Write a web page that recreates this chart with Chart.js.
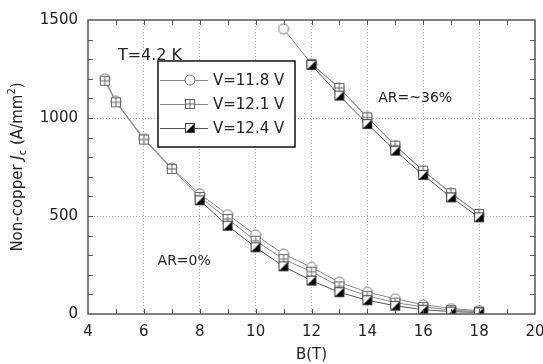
<!DOCTYPE html>
<html>
<head>
<meta charset="utf-8">
<script src="https://cdn.jsdelivr.net/npm/chart.js@4"></script>
<style>
  html, body { margin: 0; padding: 0; background: #fff; }
</style>
</head>
<body>
<canvas id="jcChart" width="543" height="364"></canvas>
<script>
// ---- data ----
// AR=0% group
var fieldLow    = [4.6, 5, 6, 7, 8, 9, 10, 11, 12, 13, 14, 15, 16, 17, 18];
var jc118Low    = [1200, 1085, 895, 745, 612, 507, 403, 306, 238, 162, 111, 78, 47, 28, 17];
var jc121Low    = [1190, 1080, 890, 740, 597, 485, 374, 280, 216, 141, 93, 58, 36, 20, 12];
var fieldLow124 = [8, 9, 10, 11, 12, 13, 14, 15, 16, 17, 18];
var jc124Low    = [580, 450, 340, 243, 170, 111, 70, 42, 22, 12, 8];
// AR=~36% group
var fieldHigh118 = [11, 12, 13, 14, 15, 16, 17, 18];
var jc118High    = [1455, 1275, 1153, 1003, 859, 731, 616, 510];
var fieldHigh    = [12, 13, 14, 15, 16, 17, 18];
var jc121High    = [1275, 1153, 1003, 859, 731, 616, 510];
var jc124High    = [1270, 1114, 969, 833, 709, 595, 493];

var seriesNames = ["V=11.8 V", "V=12.1 V", "V=12.4 V"];
var xTicks = [4, 6, 8, 10, 12, 14, 16, 18, 20];
var yTicks = [0, 500, 1000, 1500];

var FONT = "'DejaVu Sans', sans-serif";

function pts(xs, ys) {
    return xs.map(function(x, i) { return {x: x, y: ys[i]}; });
}

// ---- marker images ----
function makeMarker(kind) {
    var c = document.createElement('canvas');
    c.width = 12; c.height = 12;
    var g = c.getContext('2d');
    g.lineWidth = 1;
    if (kind === 'circle') {
        g.beginPath();
        g.arc(6, 6, 5, 0, Math.PI * 2);
        g.fillStyle = '#fff'; g.fill();
        g.strokeStyle = '#777'; g.stroke();
    } else if (kind === 'plus') {
        g.fillStyle = '#fff';
        g.fillRect(1.5, 1.5, 9, 9);
        g.strokeStyle = '#666';
        g.strokeRect(1.5, 1.5, 9, 9);
        g.beginPath();
        g.moveTo(6, 1.5); g.lineTo(6, 10.5);
        g.moveTo(1.5, 6); g.lineTo(10.5, 6);
        g.stroke();
    } else {
        g.fillStyle = '#fff';
        g.fillRect(1.5, 1.5, 9, 9);
        g.beginPath();
        g.moveTo(1.5, 10.5); g.lineTo(10.5, 1.5); g.lineTo(10.5, 10.5);
        g.closePath();
        g.fillStyle = '#000'; g.fill();
        g.strokeStyle = '#444';
        g.strokeRect(1.5, 1.5, 9, 9);
    }
    return c;
}
var markers = [makeMarker('circle'), makeMarker('plus'), makeMarker('half')];
var lineColors = ['#888', '#888', '#555'];

function ds(name, idx, data) {
    return {
        label: name,
        data: data,
        borderColor: lineColors[idx],
        backgroundColor: '#fff',
        borderWidth: 1,
        pointStyle: markers[idx],
        pointRadius: 5,
        pointHoverRadius: 5,
        tension: 0,
        fill: false,
        order: 2 - idx
    };
}

// ---- decorations: frame, inner ticks, legend box, labels, y title ----
var decor = {
    id: 'decor',
    afterDraw: function(chart) {
        var ctx = chart.ctx, a = chart.chartArea;
        var xs = chart.scales.x, ys = chart.scales.y;
        ctx.save();
        ctx.setLineDash([]);
        // minor ticks pointing inward on all four sides
        ctx.strokeStyle = '#555';
        ctx.lineWidth = 1;
        ctx.beginPath();
        for (var v = 5; v < 20; v++) {
            var px = Math.round(xs.getPixelForValue(v)) + 0.5;
            ctx.moveTo(px, a.bottom); ctx.lineTo(px, a.bottom - 5);
            ctx.moveTo(px, a.top); ctx.lineTo(px, a.top + 5);
        }
        for (var w = 100; w < 1500; w += 100) {
            var py = Math.round(ys.getPixelForValue(w)) + 0.5;
            ctx.moveTo(a.left, py); ctx.lineTo(a.left + 5, py);
            ctx.moveTo(a.right, py); ctx.lineTo(a.right - 5, py);
        }
        ctx.stroke();
        // frame
        ctx.lineWidth = 1.5;
        ctx.strokeStyle = '#555';
        ctx.strokeRect(a.left, a.top, a.right - a.left, a.bottom - a.top);

        // text labels
        ctx.fillStyle = '#222';
        ctx.textBaseline = 'middle';
        ctx.textAlign = 'left';
        ctx.font = '16px ' + FONT;
        ctx.fillText('T=4.2 K', xs.getPixelForValue(5.07), ys.getPixelForValue(1316));
        ctx.font = '14px ' + FONT;
        ctx.fillText('AR=~36%', xs.getPixelForValue(14.39), ys.getPixelForValue(1102));
        ctx.fillText('AR=0%', xs.getPixelForValue(6.49), ys.getPixelForValue(270));

        // legend box
        var bx = a.left + 70, by = a.top + 41, bw = 137, bh = 86;
        ctx.fillStyle = '#fff';
        ctx.fillRect(bx, by, bw, bh);
        ctx.lineWidth = 1.5;
        ctx.strokeStyle = '#111';
        ctx.strokeRect(bx, by, bw, bh);
        ctx.font = '15px ' + FONT;
        for (var i = 0; i < seriesNames.length; i++) {
            var ly = Math.round(by + 19 + i * 24) + 0.5;
            ctx.lineWidth = 1;
            ctx.strokeStyle = lineColors[i];
            ctx.beginPath();
            ctx.moveTo(bx + 2, ly); ctx.lineTo(bx + 50, ly);
            ctx.stroke();
            ctx.drawImage(markers[i], bx + 32 - 6, ly - 6.5);
            ctx.fillStyle = '#222';
            ctx.fillText(seriesNames[i], bx + 55, ly + 1);
        }

        // y axis title with subscript / superscript
        var cy = (a.top + a.bottom) / 2;
        ctx.translate(18, cy);
        ctx.rotate(-Math.PI / 2);
        var parts = [
            {t: 'Non-copper ', f: '15px ' + FONT, dy: 0},
            {t: 'J', f: 'italic 15px ' + FONT, dy: 0},
            {t: 'c', f: '10px ' + FONT, dy: 5},
            {t: ' (A/mm', f: '15px ' + FONT, dy: 0},
            {t: '2', f: '10px ' + FONT, dy: -6},
            {t: ')', f: '15px ' + FONT, dy: 0}
        ];
        var total = 0;
        parts.forEach(function(p) { ctx.font = p.f; p.w = ctx.measureText(p.t).width; total += p.w; });
        var x0 = -total / 2;
        ctx.fillStyle = '#222';
        parts.forEach(function(p) {
            ctx.font = p.f;
            ctx.fillText(p.t, x0, p.dy);
            x0 += p.w;
        });
        ctx.restore();
    }
};

var jcChart = new Chart(document.getElementById('jcChart'), {
    type: 'line',
    data: {
        datasets: [
            ds(seriesNames[0], 0, pts(fieldLow, jc118Low)),
            ds(seriesNames[1], 1, pts(fieldLow, jc121Low)),
            ds(seriesNames[2], 2, pts(fieldLow124, jc124Low)),
            ds(seriesNames[0], 0, pts(fieldHigh118, jc118High)),
            ds(seriesNames[1], 1, pts(fieldHigh, jc121High)),
            ds(seriesNames[2], 2, pts(fieldHigh, jc124High))
        ]
    },
    options: {
        responsive: false,
        animation: false,
        layout: { padding: { top: 20, right: 8, left: 0, bottom: 0 } },
        plugins: {
            legend: { display: false },
            tooltip: { enabled: false }
        },
        scales: {
            x: {
                type: 'linear',
                min: 4, max: 20,
                afterFit: function(s) {
                    s.height = 50;
                    s.paddingLeft = 0; s.paddingRight = 0;
                },
                ticks: {
                    stepSize: 2,
                    autoSkip: false,
                    maxRotation: 0,
                    padding: 9,
                    color: '#222',
                    font: { family: FONT, size: 15 },
                    callback: function(v) { return xTicks.indexOf(v) >= 0 ? v : ''; }
                },
                grid: {
                    drawTicks: false,
                    lineWidth: 1,
                    color: function(c) {
                        var v = c.tick && c.tick.value;
                        return (v > 4 && v < 20) ? '#aaa' : 'transparent';
                    }
                },
                border: { display: false, dash: [1, 2] },
                title: {
                    display: true,
                    text: 'B(T)',
                    color: '#222',
                    font: { family: FONT, size: 15 },
                    padding: { top: 0, bottom: 0 }
                }
            },
            y: {
                min: 0, max: 1500,
                afterFit: function(s) {
                    s.width = 88;
                    s.paddingTop = 0; s.paddingBottom = 0;
                },
                ticks: {
                    stepSize: 500,
                    padding: 10,
                    color: '#222',
                    font: { family: FONT, size: 15 },
                    callback: function(v) { return yTicks.indexOf(v) >= 0 ? v : ''; }
                },
                grid: {
                    drawTicks: false,
                    lineWidth: 1,
                    color: function(c) {
                        var v = c.tick && c.tick.value;
                        return (v > 0 && v < 1500) ? '#aaa' : 'transparent';
                    }
                },
                border: { display: false, dash: [1, 2] }
            }
        }
    },
    plugins: [decor]
});
</script>
</body>
</html>
